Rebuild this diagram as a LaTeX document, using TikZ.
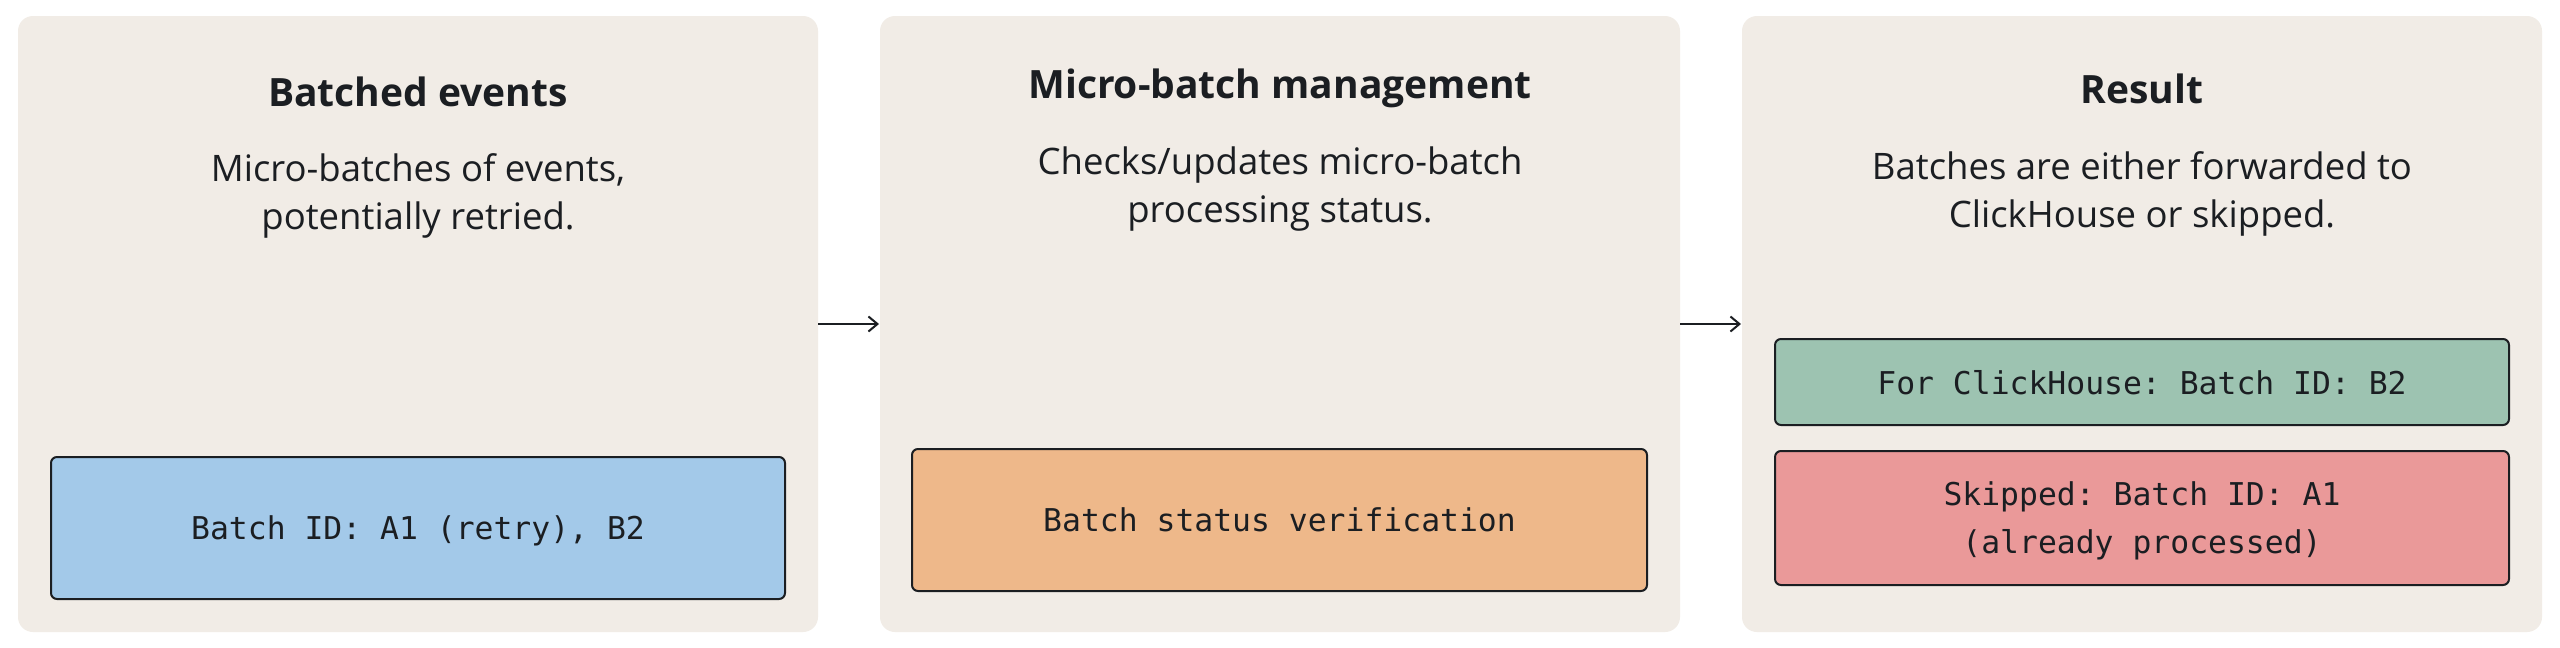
\documentclass[tikz,border=0pt]{standalone}
\usepackage{fontspec}
\setmainfont{Open Sans}
\setmonofont{DejaVu Sans Mono}
\usetikzlibrary{arrows.meta}
\definecolor{panelbg}{HTML}{F1ECE6}
\definecolor{boxblue}{HTML}{A3C9E9}
\definecolor{boxorange}{HTML}{EEB88A}
\definecolor{boxgreen}{HTML}{9DC3B1}
\definecolor{boxred}{HTML}{EA9999}
\definecolor{ink}{HTML}{1B1E22}
\tikzset{
  panel/.style={fill=panelbg, draw=none, rounded corners=15pt, minimum width=800pt, minimum height=616pt, anchor=north west, inner sep=0pt, outer sep=0pt},
  box/.style={draw=ink, line width=2pt, rounded corners=6pt, anchor=north west, inner sep=0pt, outer sep=0pt, text=ink, align=center, text depth=0pt, font=\ttfamily\fontsize{31.4}{48}\selectfont},
  ttl/.style={anchor=base, text=ink, inner sep=0pt, font=\bfseries\fontsize{39}{46}\selectfont},
  sub/.style={anchor=base, text=ink, inner sep=0pt, align=center, font=\fontsize{36.5}{48}\selectfont},
  arr/.style={draw=ink, line width=2pt, -{Straight Barb[length=9pt,width=15pt]}, shorten >=1pt},
}
\begin{document}
\begin{tikzpicture}[x=1pt,y=-1pt]
\useasboundingbox[fill=white] (0,0) rectangle (2560,648);
% panels
\node[panel] (p1) at (18,16) {};
\node[panel] (p2) at (880,16) {};
\node[panel] (p3) at (1742,16) {};
% titles
\node[ttl] (t1) at (418,106) {Batched events};
\node[ttl] (t2) at (1280,98) {Micro-batch management};
\node[ttl] (t3) at (2142,103) {Result};
% subtitles (anchor base = baseline of the last line)
\node[sub] (s1) at (418,229) {Micro-batches of events,\\potentially retried.};
\node[sub] (s2) at (1280,222) {Checks/updates micro-batch\\processing status.};
\node[sub] (s3) at (2142,227) {Batches are either forwarded to\\ClickHouse or skipped.};
% boxes
\node[box, fill=boxblue, minimum width=734pt, minimum height=142pt] (b1) at (51,457) {Batch ID: A1 (retry), B2};
\node[box, fill=boxorange, minimum width=735pt, minimum height=142pt] (b2) at (912,449) {Batch status verification};
\node[box, fill=boxgreen, minimum width=734pt, minimum height=86pt] (b3) at (1775,339) {For ClickHouse: Batch ID: B2};
\node[box, fill=boxred, minimum width=734pt, minimum height=134pt] (b4) at (1775,451) {Skipped: Batch ID: A1\\(already processed)};
% connectors
\draw[arr] (p1.east) -- (p2.west);
\draw[arr] (p2.east) -- (p3.west);
\end{tikzpicture}
\end{document}
